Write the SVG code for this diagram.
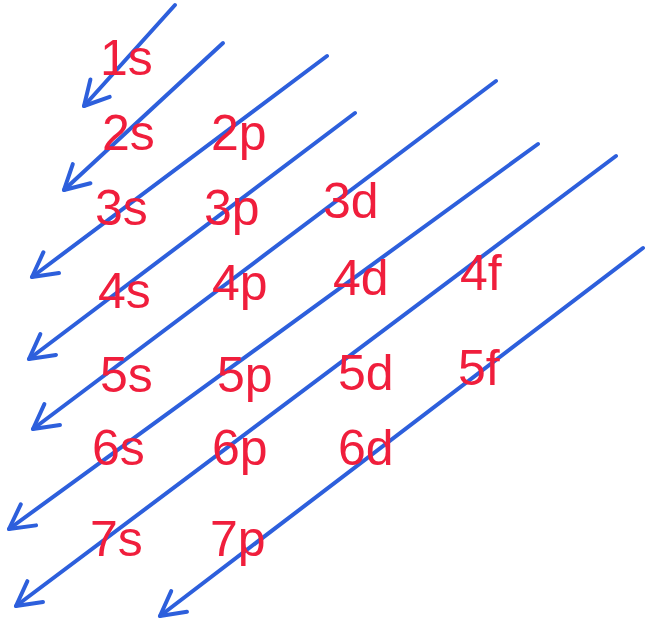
<svg xmlns="http://www.w3.org/2000/svg" width="646" height="630" viewBox="0 0 646 630">
<style>
.lbl{font-family:"Liberation Sans Narrow","Liberation Sans",sans-serif;font-size:50px;fill:#f01e3c}
.arr{stroke:#2d5fdc;stroke-width:4;fill:none;stroke-linecap:round;marker-end:url(#head)}
</style>
<defs>
<marker id="head" markerUnits="userSpaceOnUse" markerWidth="40" markerHeight="40" refX="0" refY="0" viewBox="-30 -20 40 40" orient="auto" overflow="visible">
<path d="M-24 -13 L0 0 L-24 13" fill="none" stroke="#2d5fdc" stroke-width="4" stroke-linecap="round" stroke-linejoin="round"/>
</marker>
</defs>
<rect width="646" height="630" fill="#ffffff"/>
<g id="connectors">
<path class="arr" d="M175 5 L84 106"/>
<path class="arr" d="M223 43 L64 190"/>
<path class="arr" d="M327 56 L32 277"/>
<path class="arr" d="M355 113 L29 359"/>
<path class="arr" d="M496 81 L33 429"/>
<path class="arr" d="M538 144 L9 529"/>
<path class="arr" d="M616 156 L16 606"/>
<path class="arr" d="M643 248 L160 616"/>
</g>
<g id="n1s"><text class="lbl" x="100" y="75">1s</text></g>
<g id="n2s"><text class="lbl" x="102" y="150">2s</text></g>
<g id="n2p"><text class="lbl" x="211" y="150">2p</text></g>
<g id="n3s"><text class="lbl" x="95" y="225">3s</text></g>
<g id="n3p"><text class="lbl" x="204" y="225">3p</text></g>
<g id="n3d"><text class="lbl" x="323" y="218">3d</text></g>
<g id="n4s"><text class="lbl" x="98" y="308">4s</text></g>
<g id="n4p"><text class="lbl" x="212" y="300">4p</text></g>
<g id="n4d"><text class="lbl" x="333" y="295">4d</text></g>
<g id="n4f"><text class="lbl" x="460" y="290">4f</text></g>
<g id="n5s"><text class="lbl" x="100" y="392">5s</text></g>
<g id="n5p"><text class="lbl" x="217" y="392">5p</text></g>
<g id="n5d"><text class="lbl" x="338" y="390">5d</text></g>
<g id="n5f"><text class="lbl" x="458" y="385">5f</text></g>
<g id="n6s"><text class="lbl" x="92" y="465">6s</text></g>
<g id="n6p"><text class="lbl" x="212" y="465">6p</text></g>
<g id="n6d"><text class="lbl" x="338" y="465">6d</text></g>
<g id="n7s"><text class="lbl" x="90" y="556">7s</text></g>
<g id="n7p"><text class="lbl" x="210" y="556">7p</text></g>
</svg>
